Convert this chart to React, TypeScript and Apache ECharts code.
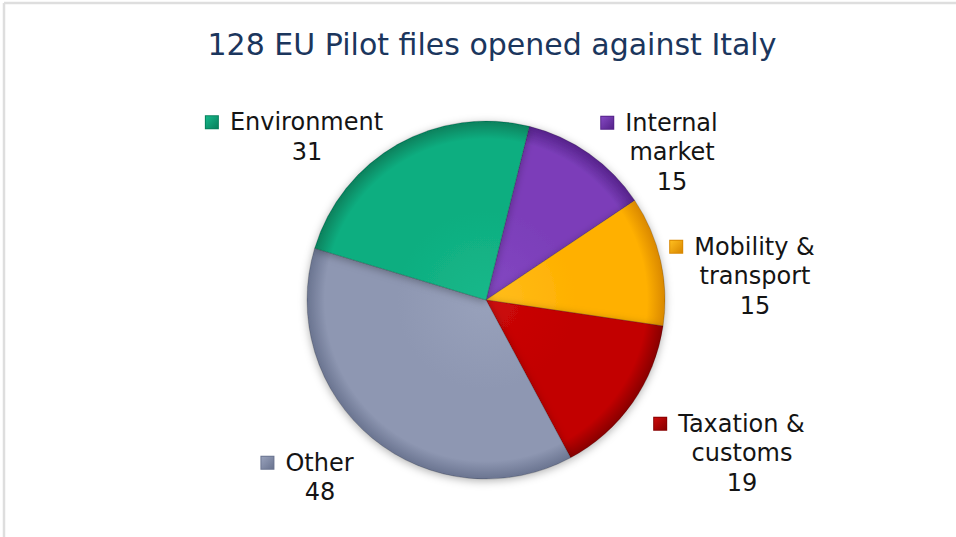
import React, { useEffect, useRef } from "react";
import * as echarts from "echarts";

const titleText = "128 EU Pilot files opened against Italy";
const categories = ["Internal\nmarket", "Mobility &\ntransport", "Taxation &\ncustoms", "Other", "Environment"];
const values = [15, 15, 19, 48, 31];

const baseColors = ["#7b3eb9", "#ffb000", "#c20000", "#8e97b2", "#0fae80"];
const lightColors = ["#8448c2", "#ffbe1e", "#cc0a0a", "#98a1bb", "#16b88a"];
const darkColors = ["#55228a", "#d98800", "#880000", "#6a7490", "#06805c"];

const labelPos = [
  { x: 672, y: 108 },
  { x: 755, y: 232 },
  { x: 742, y: 409 },
  { x: 320, y: 448 },
  { x: 307, y: 107.5 },
];

const CX = 486;
const CY = 300;
const R = 179;
const FONT = "'DejaVu Sans', Verdana, sans-serif";
const FS = 24;
const LH = 29.5;

export default function App() {
  const ref = useRef<HTMLDivElement>(null);
  useEffect(() => {
    if (!ref.current) return;
    const chart = echarts.init(ref.current, undefined, { renderer: "svg" });
    const rich: any = {
      n: { fontSize: FS, lineHeight: LH, color: "#141414", fontFamily: FONT, align: "center" },
      g: { width: 12, lineHeight: LH, align: "center", fontSize: FS },
      s: { width: 25, lineHeight: LH, align: "center", fontSize: FS },
    };
    baseColors.forEach((c, i) => {
      rich["m" + i] = {
        width: 12,
        height: 12,
        lineHeight: LH,
        align: "center",
        backgroundColor: {
          type: "linear",
          x: 0, y: 0, x2: 1, y2: 1,
          colorStops: [
            { offset: 0, color: lightColors[i] },
            { offset: 1, color: darkColors[i] },
          ],
        },
        borderColor: darkColors[i],
        borderWidth: 1,
      };
    });
    const data = categories.map((name, i) => ({
      name,
      value: values[i],
      itemStyle: {
        color: {
          type: "radial",
          x: CX,
          y: CY,
          r: R,
          global: true,
          colorStops: [
            { offset: 0, color: lightColors[i] },
            { offset: 0.5, color: baseColors[i] },
            { offset: 0.9, color: baseColors[i] },
            { offset: 1, color: darkColors[i] },
          ],
        },
      },
    }));
    chart.setOption({
      animation: false,
      title: {
        text: titleText,
        left: 487,
        top: 24,
        textAlign: "center",
        textStyle: { fontSize: 30, fontWeight: "normal", color: "#1b365d", fontFamily: FONT },
      },
      graphic: [
        { type: "line", shape: { x1: 4, y1: 3, x2: 956, y2: 3 }, style: { stroke: "#dedede", lineWidth: 2.5 } },
        { type: "line", shape: { x1: 4, y1: 3, x2: 4, y2: 537 }, style: { stroke: "#dedede", lineWidth: 2.5 } },
      ],
      series: [
        {
          type: "pie",
          center: [CX, CY],
          radius: [0, R],
          startAngle: 76,
          clockwise: true,
          data,
          itemStyle: {
            borderColor: "rgba(0,0,0,0.18)",
            borderWidth: 1,
            shadowBlur: 8,
            shadowColor: "rgba(0,0,0,0.3)",
            shadowOffsetY: 2,
          },
          emphasis: { disabled: true },
          labelLine: { show: false },
          label: {
            show: true,
            position: "outside",
            rich,
            formatter: (p: any) => {
              const lines = String(p.name).split("\n");
              const first = `{m${p.dataIndex}| }{g| }{n|${lines[0]}}{s| }`;
              const rest = lines.slice(1).map((l: string) => `{n|${l}}`);
              return [first, ...rest, `{n|${p.value}}`].join("\n");
            },
          },
          labelLayout: (params: any) => {
            const pos = labelPos[params.dataIndex];
            return { x: pos.x, y: pos.y, align: "center", verticalAlign: "top" };
          },
        },
      ],
    });
    return () => chart.dispose();
  }, []);
  return (
    <div
      ref={ref}
      style={{ position: "fixed", left: 0, top: 0, width: 956, height: 537, background: "#ffffff" }}
    />
  );
}
